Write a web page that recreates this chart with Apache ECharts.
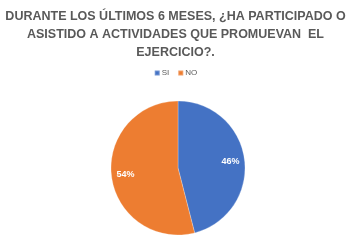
<!DOCTYPE html>
<html><head><meta charset="utf-8">
<script src="https://cdn.jsdelivr.net/npm/echarts@6/dist/echarts.min.js"></script>
<style>html,body{margin:0;padding:0;background:#fff}#c{width:351px;height:244px}</style>
</head><body><div id="c"></div>
<script>
var categories = ['SI', 'NO'];
var values = [46, 54];
var colors = ['#4472C4', '#ED7D31'];
var titleText = 'DURANTE LOS ÚLTIMOS 6 MESES, ¿HA PARTICIPADO O\nASISTIDO A ACTIVIDADES QUE PROMUEVAN  EL\nEJERCICIO?.';

var chart = echarts.init(document.getElementById('c'));
var data = categories.map(function (c, i) { return { name: c, value: values[i] }; });
chart.setOption({
  animation: false,
  title: {
    text: titleText, left: 'center', top: 3,
    textStyle: { fontFamily: 'Liberation Sans', fontWeight: 'bold', fontSize: 12.5, color: '#595959', lineHeight: 18 }
  },
  legend: {
    data: categories, top: 64, left: 'center', itemWidth: 5, itemHeight: 5, itemGap: 8, icon: 'rect',
    textStyle: { fontFamily: 'Liberation Sans', fontSize: 8, color: '#595959', padding: [0, 0, 0, -3] }
  },
  color: colors,
  series: [{
    type: 'pie', radius: 67, center: [178, 168], startAngle: 90, clockwise: true,
    label: { show: false }, labelLine: { show: false },
    itemStyle: { borderColor: 'rgba(255,255,255,0.25)', borderWidth: 1 },
    emphasis: { disabled: true },
    data: data
  }, {
    type: 'pie', radius: [33, 67], center: [178, 168], startAngle: 90, clockwise: true, silent: true,
    itemStyle: { color: 'transparent' },
    label: { show: true, position: 'inside', formatter: '{c}%', color: '#fff', fontWeight: 'bold', fontSize: 9, fontFamily: 'Liberation Sans' },
    labelLine: { show: false },
    data: data
  }]
});
</script></body></html>
